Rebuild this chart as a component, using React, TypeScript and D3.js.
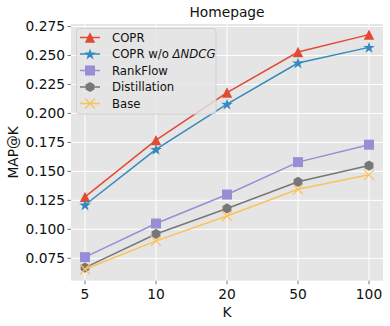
import * as d3 from 'd3';

// chart data
const kValues = ['5', '10', '20', '50', '100'];
const coprValues = [0.128, 0.177, 0.218, 0.253, 0.268];
const coprNoDeltaValues = [0.121, 0.169, 0.208, 0.2435, 0.257];
const rankFlowValues = [0.076, 0.105, 0.130, 0.158, 0.173];
const distillationValues = [0.067, 0.096, 0.118, 0.141, 0.155];
const baseValues = [0.0655, 0.090, 0.1115, 0.1345, 0.147];
const yTicks = [0.075, 0.1, 0.125, 0.15, 0.175, 0.2, 0.225, 0.25, 0.275];

const series = [
  { key: 'copr', label: 'COPR', values: coprValues, color: '#E24A33', marker: 'triangle' },
  { key: 'coprNo', label: 'COPR w/o ', math: 'ΔNDCG', values: coprNoDeltaValues, color: '#348ABD', marker: 'star' },
  { key: 'rankflow', label: 'RankFlow', values: rankFlowValues, color: '#988ED5', marker: 'square' },
  { key: 'distill', label: 'Distillation', values: distillationValues, color: '#777777', marker: 'hexagon' },
  { key: 'base', label: 'Base', values: baseValues, color: '#FBC15E', marker: 'x' },
];

const W = 390;
const H = 326;
const plot = { left: 71, right: 383, top: 24, bottom: 280.7 };
const FONT = '"DejaVu Sans", sans-serif';

function Marker({ type, x, y, color }: { type: string; x: number; y: number; color: string }) {
  if (type === 'triangle') {
    // matplotlib '^': centred at half height
    const s = 5.2;
    return <polygon points={`${x},${y - s} ${x - s},${y + s} ${x + s},${y + s}`} fill={color} />;
  }
  if (type === 'star') {
    const p = d3.symbol(d3.symbolStar, 42)();
    return <path d={p || ''} transform={`translate(${x},${y + 0.5})`} fill={color} />;
  }
  if (type === 'square') {
    return <rect x={x - 5} y={y - 5} width={10} height={10} fill={color} />;
  }
  if (type === 'hexagon') {
    const r = 5.1;
    const pts = d3.range(6).map(i => {
      const a = (Math.PI / 3) * i - Math.PI / 2;
      return [x + r * Math.cos(a), y + r * Math.sin(a)];
    });
    return <polygon points={pts.map(p => p.join(',')).join(' ')} fill={color} />;
  }
  // 'x'
  const s = 5;
  return (
    <path
      d={`M${x - s},${y - s}L${x + s},${y + s}M${x - s},${y + s}L${x + s},${y - s}`}
      stroke={color}
      strokeWidth={1.3}
      fill="none"
    />
  );
}

export default function App() {
  const x = d3.scalePoint<string>().domain(kValues).range([85, 369]);
  const y = d3.scaleLinear().domain([0.05567, 0.27716]).range([plot.bottom, plot.top]);
  const line = d3.line<number>()
    .x((_, i) => x(kValues[i]) as number)
    .y(d => y(d));

  const legX = 76.5;
  const legY = 28.5;
  const legW = 139.5;
  const legH = 85.5;
  const rowGap = 16.5;

  return (
    <svg width={W} height={H} style={{ position: 'absolute', left: 0, top: 0, fontFamily: FONT }}>
      <rect x={0} y={0} width={W} height={H} fill="#ffffff" />
      <rect x={plot.left} y={plot.top} width={plot.right - plot.left} height={plot.bottom - plot.top} fill="#E5E5E5" />

      {/* grid */}
      {yTicks.map(t => (
        <line key={`gy${t}`} x1={plot.left} x2={plot.right} y1={y(t)} y2={y(t)} stroke="#ffffff" strokeWidth={1} />
      ))}
      {kValues.map(k => (
        <line key={`gx${k}`} x1={x(k)} x2={x(k)} y1={plot.top} y2={plot.bottom} stroke="#ffffff" strokeWidth={1} />
      ))}

      {/* y ticks */}
      {yTicks.map(t => (
        <g key={`ty${t}`}>
          <line x1={plot.left - 3.5} x2={plot.left} y1={y(t)} y2={y(t)} stroke="#555555" strokeWidth={0.8} />
          <text x={plot.left - 6} y={y(t)} dy="0.35em" textAnchor="end" fontSize={13.8} fill="#111">
            {t.toFixed(3)}
          </text>
        </g>
      ))}
      {/* x ticks */}
      {kValues.map(k => (
        <g key={`tx${k}`}>
          <line x1={x(k)} x2={x(k)} y1={plot.bottom} y2={plot.bottom + 3.5} stroke="#555555" strokeWidth={0.8} />
          <text x={x(k)} y={plot.bottom + 18} textAnchor="middle" fontSize={13.8} fill="#111">
            {k}
          </text>
        </g>
      ))}

      {/* series */}
      {series.map(s => (
        <g key={s.key}>
          <path d={line(s.values) || ''} fill="none" stroke={s.color} strokeWidth={1.5} />
          {s.values.map((v, i) => (
            <Marker key={i} type={s.marker} x={x(kValues[i]) as number} y={y(v)} color={s.color} />
          ))}
        </g>
      ))}

      {/* legend */}
      <rect x={legX} y={legY} width={legW} height={legH} rx={3} fill="#E5E5E5" fillOpacity={0.8} stroke="#CCCCCC" strokeWidth={0.8} />
      {series.map((s, i) => {
        const cy = legY + 9 + i * rowGap;
        return (
          <g key={`leg${s.key}`}>
            <line x1={80} x2={100} y1={cy} y2={cy} stroke={s.color} strokeWidth={1.5} />
            <Marker type={s.marker} x={90} y={cy} color={s.color} />
            <text x={112} y={cy} dy="0.35em" fontSize={11.7} fill="#111">
              {s.label}
              {s.math ? <tspan fontStyle="italic">{s.math}</tspan> : null}
            </text>
          </g>
        );
      })}

      {/* titles */}
      <text x={(plot.left + plot.right) / 2} y={17} textAnchor="middle" fontSize={13.8} fill="#111">
        Homepage
      </text>
      <text x={(plot.left + plot.right) / 2} y={317} textAnchor="middle" fontSize={13.8} fill="#111">
        K
      </text>
      <text
        transform={`translate(18,${(plot.top + plot.bottom) / 2}) rotate(-90)`}
        textAnchor="middle"
        fontSize={13.8}
        fill="#111"
      >
        MAP@K
      </text>
    </svg>
  );
}
